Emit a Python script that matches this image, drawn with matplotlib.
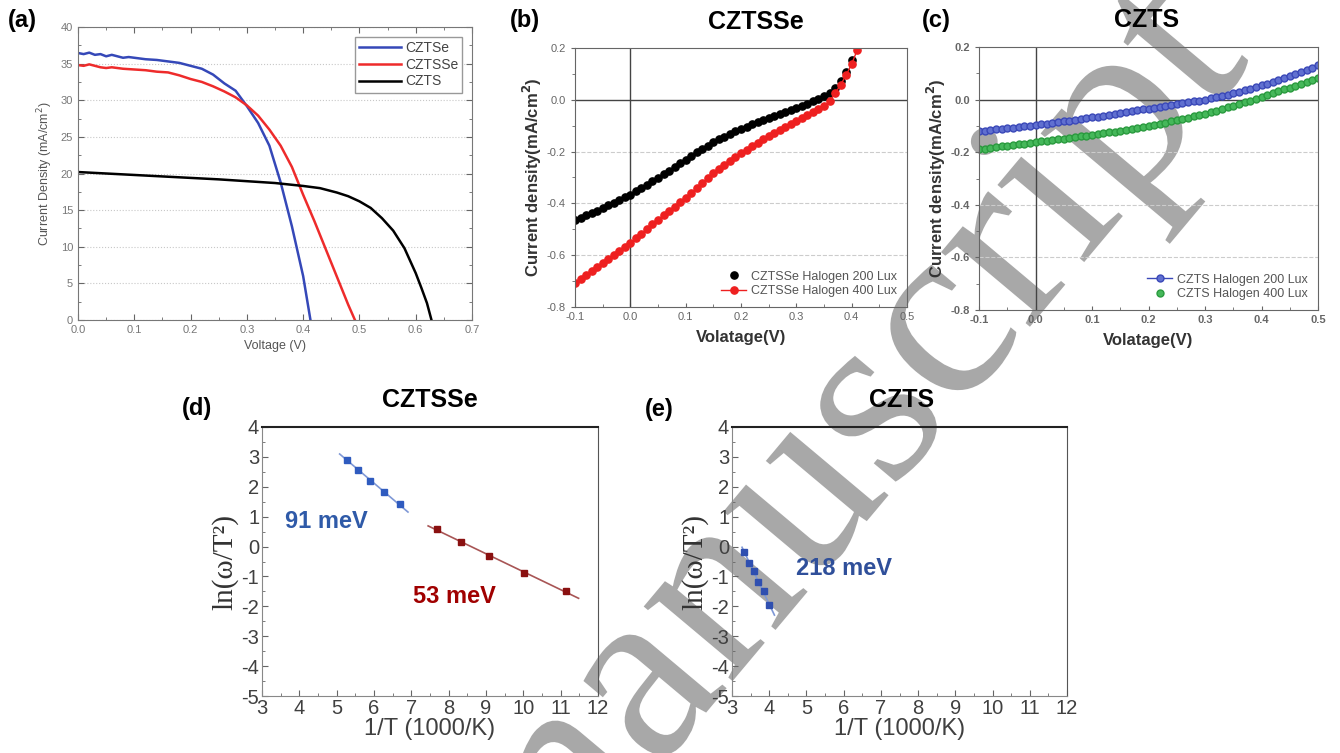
import numpy as np
import matplotlib
matplotlib.use("Agg")
import matplotlib.pyplot as plt
from matplotlib.ticker import MultipleLocator
import matplotlib.patheffects as pe

plt.rcParams['font.family'] = ['Liberation Sans', 'DejaVu Sans']
plt.rcParams['axes.unicode_minus'] = False

# ---- (a) J-V curves under AM1.5 ----
v_czts_e = [0.0, 0.01, 0.02, 0.03, 0.04, 0.05, 0.06, 0.07, 0.08, 0.09, 0.10, 0.12, 0.14, 0.16,
            0.18, 0.20, 0.22, 0.24, 0.26, 0.28, 0.30, 0.32, 0.34, 0.36, 0.38, 0.40, 0.413]
j_czts_e = [36.45, 36.3, 36.5, 36.2, 36.3, 36.0, 36.2, 36.0, 35.8, 35.9, 35.8, 35.6, 35.5, 35.3,
            35.1, 34.7, 34.3, 33.5, 32.3, 31.3, 29.2, 26.9, 23.8, 18.8, 12.8, 6.0, 0.0]
v_cztsse = [0.0, 0.01, 0.02, 0.03, 0.04, 0.05, 0.06, 0.08, 0.10, 0.12, 0.14, 0.16, 0.18, 0.20,
            0.22, 0.24, 0.26, 0.28, 0.30, 0.32, 0.34, 0.36, 0.38, 0.40, 0.42, 0.44, 0.46, 0.48, 0.492]
j_cztsse = [34.8, 34.7, 34.9, 34.7, 34.5, 34.4, 34.5, 34.3, 34.2, 34.1, 33.9, 33.8, 33.4, 32.9,
            32.5, 31.9, 31.2, 30.4, 29.3, 27.9, 26.0, 23.8, 20.9, 17.1, 13.5, 9.7, 5.9, 2.1, 0.0]
v_czts = [0.0, 0.05, 0.10, 0.15, 0.20, 0.25, 0.30, 0.35, 0.40, 0.43, 0.46, 0.48, 0.50, 0.52,
          0.54, 0.56, 0.58, 0.60, 0.61, 0.62, 0.628]
j_czts = [20.2, 20.0, 19.8, 19.6, 19.4, 19.2, 18.95, 18.7, 18.3, 18.0, 17.4, 16.9, 16.2, 15.3,
          13.9, 12.2, 9.8, 6.4, 4.4, 2.3, 0.0]

# ---- (b) CZTSSe under halogen lamp ----
v_b200 = np.round(np.arange(-0.10, 0.4001, 0.01), 2)
j_b200 = [-0.463, -0.455, -0.446, -0.437, -0.428, -0.418, -0.408, -0.398, -0.388, -0.377,
          -0.366, -0.354, -0.341, -0.328, -0.315, -0.302, -0.288, -0.273, -0.259, -0.245,
          -0.231, -0.217, -0.203, -0.190, -0.177, -0.164, -0.153, -0.143, -0.132, -0.122,
          -0.113, -0.104, -0.095, -0.087, -0.078, -0.070, -0.062, -0.054, -0.047, -0.039,
          -0.032, -0.024, -0.015, -0.006, 0.003, 0.013, 0.028, 0.046, 0.074, 0.108, 0.155]
v_b400 = np.round(np.arange(-0.10, 0.4101, 0.01), 2)
j_b400 = [-0.707, -0.692, -0.676, -0.661, -0.646, -0.630, -0.615, -0.600, -0.585, -0.569,
          -0.553, -0.535, -0.517, -0.499, -0.481, -0.463, -0.446, -0.429, -0.412, -0.396,
          -0.379, -0.360, -0.340, -0.321, -0.302, -0.283, -0.267, -0.251, -0.235, -0.220,
          -0.205, -0.192, -0.179, -0.166, -0.153, -0.141, -0.129, -0.117, -0.106, -0.094,
          -0.083, -0.071, -0.060, -0.048, -0.037, -0.025, -0.006, 0.025, 0.058, 0.095,
          0.138, 0.192]

# ---- (c) CZTS under halogen lamp ----
v_c = np.round(np.arange(-0.10, 0.5001, 0.01), 2)
j_c200 = [-0.120, -0.118, -0.116, -0.113, -0.111, -0.109, -0.107, -0.104, -0.102, -0.099,
          -0.097, -0.094, -0.091, -0.089, -0.086, -0.083, -0.080, -0.077, -0.074, -0.071,
          -0.068, -0.065, -0.061, -0.058, -0.054, -0.051, -0.048, -0.044, -0.041, -0.037,
          -0.034, -0.031, -0.028, -0.024, -0.021, -0.018, -0.014, -0.011, -0.007, -0.004,
          0.000, 0.005, 0.009, 0.014, 0.019, 0.025, 0.030, 0.036, 0.042, 0.048,
          0.054, 0.061, 0.068, 0.075, 0.082, 0.090, 0.098, 0.106, 0.114, 0.122, 0.130]
j_c400 = [-0.189, -0.186, -0.183, -0.181, -0.178, -0.175, -0.172, -0.169, -0.167, -0.164,
          -0.161, -0.158, -0.156, -0.153, -0.151, -0.148, -0.145, -0.143, -0.140, -0.138,
          -0.135, -0.132, -0.128, -0.125, -0.122, -0.119, -0.115, -0.111, -0.107, -0.104,
          -0.101, -0.097, -0.093, -0.088, -0.083, -0.078, -0.074, -0.069, -0.064, -0.058,
          -0.053, -0.048, -0.042, -0.036, -0.030, -0.023, -0.017, -0.010, -0.004, 0.003,
          0.010, 0.017, 0.024, 0.031, 0.039, 0.046, 0.053, 0.061, 0.068, 0.076, 0.084]

# ---- (d), (e) Arrhenius plots ----
invT_d_hi = [5.29, 5.57, 5.90, 6.26, 6.69]
ln_d_hi = [2.91, 2.57, 2.18, 1.83, 1.42]
invT_d_lo = [7.70, 8.34, 9.08, 10.01, 11.13]
ln_d_lo = [0.58, 0.14, -0.32, -0.87, -1.49]
invT_e = [3.33, 3.47, 3.58, 3.70, 3.85, 4.00]
ln_e = [-0.18, -0.54, -0.83, -1.18, -1.50, -1.94]

W, H = 1340, 753
fig = plt.figure(figsize=(W / 100, H / 100), dpi=100)


def add_ax(l, t, r, b):
    a = fig.add_axes([l / W, 1 - b / H, (r - l) / W, (b - t) / H])
    a.patch.set_alpha(0)  # let the sheet watermark show through
    return a


def ftext(x, y, s, **kw):
    fig.text(x / W, 1 - y / H, s, **kw)


# (a)
ax = add_ax(78, 27, 472, 320)
ax.plot(v_czts_e, j_czts_e, color='#3548b8', lw=1.8, label='CZTSe')
ax.plot(v_cztsse, j_cztsse, color='#ee2b2b', lw=1.8, label='CZTSSe')
ax.plot(v_czts, j_czts, color='black', lw=1.8, label='CZTS')
ax.set_xlim(0, 0.7)
ax.set_ylim(0, 40)
ax.xaxis.set_major_locator(MultipleLocator(0.1))
ax.xaxis.set_minor_locator(MultipleLocator(0.05))
ax.yaxis.set_major_locator(MultipleLocator(5))
ax.yaxis.set_minor_locator(MultipleLocator(2.5))
ax.set_xticks(ax.get_xticks())
ax.set_xticklabels([f'{t:.1f}' for t in ax.get_xticks()])
ax.set_xlim(0, 0.7)
ax.tick_params(which='both', direction='in', top=True, right=True, labelsize=8,
               labelcolor='#777777', color='#666666')
ax.tick_params(which='major', length=4)
ax.tick_params(which='minor', length=2)
ax.yaxis.grid(True, ls=':', color='#c8c8c8', lw=0.8)
for s in ax.spines.values():
    s.set_color('#777777')
ax.set_xlabel('Voltage (V)', fontsize=9, color='#555555', labelpad=4)
ax.set_ylabel('Current Density (mA/cm$^2$)', fontsize=9, color='#555555')
leg = ax.legend(loc='upper right', fontsize=10, fancybox=False, framealpha=1,
                edgecolor='#999999', handlelength=3, borderaxespad=0.7,
                borderpad=0.3, labelspacing=0.2, handletextpad=0.3)
for t in leg.get_texts():
    t.set_color('#444444')
ftext(8, 20, '(a)', fontsize=17, fontweight='bold', va='center')

# (b)
ax = add_ax(575, 48, 907, 307)
ax.axhline(0, color='#444444', lw=1)
ax.axvline(0, color='#444444', lw=1)
ax.plot(v_b200, j_b200, 'o', color='black', ms=5.2, label='CZTSSe Halogen 200 Lux')
ax.plot(v_b400, j_b400, '-o', color='#ee2020', lw=1, ms=5.2, label='CZTSSe Halogen 400 Lux')

# (c)
ax_c = add_ax(979, 47, 1318, 310)
ax_c.axhline(0, color='#444444', lw=1)
ax_c.axvline(0, color='#444444', lw=1)
ax_c.plot(v_c, j_c200, '-o', color='#3a48b8', mfc='#6070d0', mec='#3a48b8', lw=1, ms=5,
          label='CZTS Halogen 200 Lux')
ax_c.plot(v_c, j_c400, 'o', color='#2a9a3e', mfc='#45b85a', mec='#2a9a3e', ms=5,
          label='CZTS Halogen 400 Lux')

for a, lw_bold in ((ax, 'normal'), (ax_c, 'bold')):
    a.xaxis.set_major_locator(MultipleLocator(0.1))
    a.xaxis.set_minor_locator(MultipleLocator(0.05))
    a.yaxis.set_major_locator(MultipleLocator(0.2))
    a.yaxis.set_minor_locator(MultipleLocator(0.1))
    a.set_xlim(-0.1, 0.5)
    a.set_ylim(-0.8, 0.2)
    a.set_xticks(a.get_xticks())
    a.set_xticklabels([f'{t:.1f}' for t in a.get_xticks()])
    a.set_yticks(a.get_yticks())
    a.set_yticklabels([f'{t:.1f}' for t in a.get_yticks()])
    a.set_xlim(-0.1, 0.5)
    a.set_ylim(-0.8, 0.2)
    a.tick_params(axis='x', which='both', direction='in', color='#666666')
    a.tick_params(axis='y', which='both', direction='out', color='#666666')
    a.tick_params(which='major', length=3, labelsize=8, labelcolor='#666666')
    a.tick_params(which='minor', length=2)
    for lab in a.get_xticklabels() + a.get_yticklabels():
        lab.set_fontweight(lw_bold)
    for yv in (-0.2, -0.4, -0.6):
        a.axhline(yv, color='#cccccc', lw=0.8, ls='--', zorder=0)
    for s in a.spines.values():
        s.set_color('#666666')
    a.set_xlabel('Volatage(V)', fontsize=12, fontweight='bold', color='#333333', labelpad=6)
    a.set_ylabel('Current density(mA/cm$^\\mathbf{2}$)', fontsize=12, fontweight='bold',
                 color='#333333', labelpad=2)
    lg = a.legend(loc='lower right', frameon=False, fontsize=9, handlelength=2,
                  handletextpad=0.4, labelspacing=0.2, borderaxespad=0.4)
    for t in lg.get_texts():
        t.set_color('#555555')

ftext(510, 20, '(b)', fontsize=17, fontweight='bold', va='center')
ftext(756, 22, 'CZTSSe', fontsize=18, fontweight='bold', ha='center', va='center')
ftext(922, 20, '(c)', fontsize=17, fontweight='bold', va='center')
ftext(1147, 20, 'CZTS', fontsize=18, fontweight='bold', ha='center', va='center')

# (d) and (e)
ax_d = add_ax(262, 427, 598, 696)
ax_e = add_ax(732, 427, 1067, 696)

p = np.polyfit(invT_d_hi, ln_d_hi, 1)
xs = np.array([5.08, 6.91])
ax_d.plot(xs, np.polyval(p, xs), color='#7f98d6', lw=1.2)
ax_d.plot(invT_d_hi, ln_d_hi, 's', color='#2f5bbf', ms=5)
p = np.polyfit(invT_d_lo, ln_d_lo, 1)
xs = np.array([7.45, 11.48])
ax_d.plot(xs, np.polyval(p, xs), color='#a85555', lw=1.2)
ax_d.plot(invT_d_lo, ln_d_lo, 's', color='#8a1010', ms=5)
ax_d.text(4.72, 0.83, '91 meV', fontsize=17, fontweight='bold', color='#2f5aa8',
          ha='center', va='center')
ax_d.text(8.16, -1.66, '53 meV', fontsize=17, fontweight='bold', color='#a00000',
          ha='center', va='center')

p = np.polyfit(invT_e, ln_e, 1)
xs = np.array([3.27, 4.14])
ax_e.plot(xs, np.polyval(p, xs), color='#7f98d6', lw=1.2)
ax_e.plot(invT_e, ln_e, 's', color='#2f4fb0', ms=5)
ax_e.text(6.0, -0.73, '218 meV', fontsize=17, fontweight='bold', color='#2f4f9a',
          ha='center', va='center')

for a in (ax_d, ax_e):
    a.set_xlim(3, 12)
    a.set_ylim(-5, 4)
    a.xaxis.set_major_locator(MultipleLocator(1))
    a.xaxis.set_minor_locator(MultipleLocator(0.5))
    a.yaxis.set_major_locator(MultipleLocator(1))
    a.yaxis.set_minor_locator(MultipleLocator(0.5))
    a.tick_params(which='both', direction='in', labelsize=14.5, labelcolor='#404040',
                  color='#666666')
    a.tick_params(which='major', length=4)
    a.tick_params(which='minor', length=2)
    a.tick_params(axis='x', pad=2)
    a.tick_params(axis='y', pad=2)
    a.spines['left'].set_color('#888888')
    a.spines['bottom'].set_color('#888888')
    a.spines['top'].set_color('#222222')
    a.spines['right'].set_color('#555555')
    a.spines['top'].set_linewidth(1.5)
    a.set_xlabel('1/T (1000/K)', fontsize=17, color='#404040', labelpad=0)
    a.set_ylabel('ln(ω/T²)', fontsize=21, family='Liberation Serif', color='#333333',
                 labelpad=2)

ftext(182, 408, '(d)', fontsize=17, fontweight='bold', va='center')
ftext(430, 400, 'CZTSSe', fontsize=18, fontweight='bold', ha='center', va='center')
ftext(645, 410, '(e)', fontsize=17, fontweight='bold', va='center')
ftext(902, 400, 'CZTS', fontsize=18, fontweight='bold', ha='center', va='center')

# watermark across the sheet, underneath the plots
fig.text(845 / W, 1 - 453 / H, 'manuscript', fontsize=182, family='Liberation Serif',
         color='#a8a8a8', rotation=50, rotation_mode='anchor', ha='center', va='center',
         zorder=-5, path_effects=[pe.withStroke(linewidth=1.5, foreground='white')])

fig.savefig('out.png', dpi=100)
